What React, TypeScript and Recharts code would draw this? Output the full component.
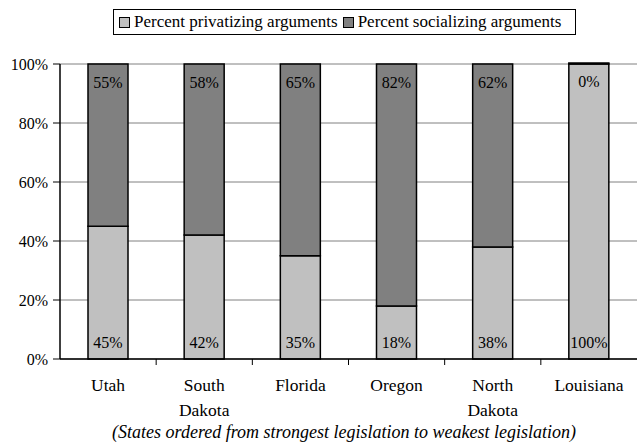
import { BarChart, Bar, XAxis, YAxis, CartesianGrid, LabelList } from "recharts";

const states = ["Utah", "South Dakota", "Florida", "Oregon", "North Dakota", "Louisiana"];
const privatizing = [45, 42, 35, 18, 38, 100];
const socializing = [55, 58, 65, 82, 62, 0];
const yTicks = [0, 20, 40, 60, 80, 100];

const data = states.map((s, i) => ({
  state: s,
  privatizing: privatizing[i],
  socializing: socializing[i],
}));

const FONT = "'Liberation Serif', 'Times New Roman', serif";
const LIGHT = "#c0c0c0";
const DARK = "#808080";
const W = 637;
const H = 444;
const PLOT_LEFT = 60;
const STEP = (W - PLOT_LEFT) / states.length;

// two-line state names + the small ticks between categories
const StateTick = (props: any) => {
  const { x, y, payload, index } = props;
  const words = String(payload.value).split(" ");
  return (
    <g>
      {index < states.length - 1 && (
        <line x1={x + STEP / 2} x2={x + STEP / 2} y1={y - 8} y2={y - 2} stroke="#000" strokeWidth={1} />
      )}
      <text x={x} y={y + 24} textAnchor="middle" fontFamily={FONT} fontSize={17.5} fill="#000">
        {words.map((w, i) => (
          <tspan key={i} x={x} dy={i === 0 ? 0 : 25}>
            {w}
          </tspan>
        ))}
      </text>
    </g>
  );
};

const bottomLabel = (props: any) => {
  const { x, y, width, height, value } = props;
  return (
    <text x={x + width / 2} y={y + height - 11.5} textAnchor="middle" fontFamily={FONT} fontSize={16} fill="#000">
      {value}%
    </text>
  );
};

const topLabel = (props: any) => {
  const { x, y, width, value } = props;
  return (
    <text x={x + width / 2} y={y + 23.5} textAnchor="middle" fontFamily={FONT} fontSize={16} fill="#000">
      {value}%
    </text>
  );
};

const legendItems = [
  { label: "Percent privatizing arguments", color: LIGHT },
  { label: "Percent socializing arguments", color: DARK },
];

const LegendBox = () => (
  <div
    style={{
      position: "absolute",
      left: 113,
      top: 9,
      width: 463,
      height: 26,
      border: "1px solid #000",
      display: "flex",
      alignItems: "center",
      paddingLeft: 5,
      fontFamily: FONT,
      fontSize: 17,
      color: "#000",
      whiteSpace: "nowrap",
      boxSizing: "border-box",
    }}
  >
    {legendItems.map((it) => (
      <span key={it.label} style={{ display: "inline-flex", alignItems: "center", marginRight: 5 }}>
        <span
          style={{
            display: "inline-block",
            width: 11,
            height: 11,
            background: it.color,
            border: "1px solid #000",
            boxSizing: "border-box",
            marginRight: 4,
          }}
        />
        {it.label}
      </span>
    ))}
  </div>
);

export default function App() {
  return (
    <div style={{ position: "absolute", left: 0, top: 0, width: W, height: H, background: "#fff" }}>
      <BarChart
        width={W}
        height={H}
        data={data}
        margin={{ top: 64, right: 0, left: 0, bottom: 25 }}
        barSize={40}
      >
        <CartesianGrid vertical={false} stroke={DARK} strokeWidth={1} />
        <XAxis
          dataKey="state"
          height={60}
          interval={0}
          axisLine={{ stroke: "#000", strokeWidth: 1.5 }}
          tickLine={false}
          tick={<StateTick />}
        />
        <YAxis
          width={PLOT_LEFT}
          domain={[0, 100]}
          ticks={yTicks}
          tickFormatter={(v) => `${v}%`}
          axisLine={{ stroke: "#000", strokeWidth: 1.5 }}
          tickLine={{ stroke: "#000" }}
          tickSize={7}
          tickMargin={5}
          tick={{ fontFamily: FONT, fontSize: 16, fill: "#000" }}
        />
        <Bar dataKey="privatizing" stackId="a" fill={LIGHT} stroke="#000" strokeWidth={1.5} isAnimationActive={false}>
          <LabelList dataKey="privatizing" content={bottomLabel} />
        </Bar>
        <Bar
          dataKey="socializing"
          stackId="a"
          fill={DARK}
          stroke="#000"
          strokeWidth={1.5}
          minPointSize={1}
          isAnimationActive={false}
        >
          <LabelList dataKey="socializing" content={topLabel} />
        </Bar>
      </BarChart>
      <LegendBox />
      <div
        style={{
          position: "absolute",
          left: 51,
          width: 586,
          top: 423,
          textAlign: "center",
          fontFamily: FONT,
          fontStyle: "italic",
          fontSize: 18,
          lineHeight: "18px",
          whiteSpace: "nowrap",
        }}
      >
        (States ordered from strongest legislation to weakest legislation)
      </div>
    </div>
  );
}
